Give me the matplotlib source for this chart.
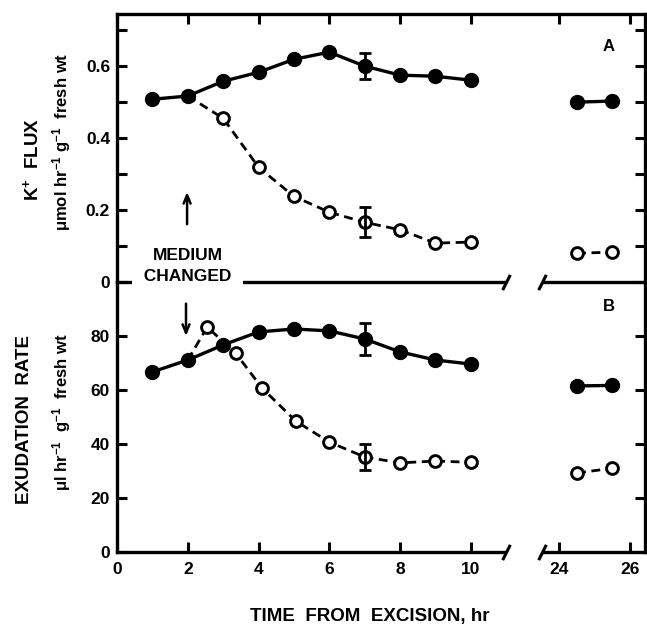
import numpy as np
import matplotlib
matplotlib.use("Agg")
import matplotlib.pyplot as plt

plt.rcParams['font.family'] = ['Liberation Sans', 'DejaVu Sans']
plt.rcParams['font.weight'] = 'bold'
plt.rcParams['mathtext.fontset'] = 'custom'
plt.rcParams['mathtext.bf'] = 'Liberation Sans:bold'
plt.rcParams['mathtext.rm'] = 'Liberation Sans:bold'
plt.rcParams['mathtext.default'] = 'bf'

# panel A: K+ flux
a_ctrl_x = [1, 2, 3, 4, 5, 6, 7, 8, 9, 10]
a_ctrl_y = [0.508, 0.517, 0.558, 0.583, 0.619, 0.639, 0.600, 0.575, 0.572, 0.561]
a_chg_x = [2, 3, 4, 5, 6, 7, 8, 9, 10]
a_chg_y = [0.517, 0.455, 0.319, 0.238, 0.194, 0.166, 0.145, 0.108, 0.111]
a_late_x = [24.5, 25.5]
a_late_ctrl = [0.500, 0.503]
a_late_chg = [0.080, 0.083]
a_err_ctrl = 0.037
a_err_chg = 0.042

# panel B: exudation rate
b_ctrl_x = [1, 2, 3, 4, 5, 6, 7, 8, 9, 10]
b_ctrl_y = [66.7, 71.1, 76.7, 81.5, 82.6, 81.9, 78.9, 74.1, 71.1, 69.6]
b_chg_x = [2, 2.55, 3.35, 4.1, 5.05, 6, 7, 8, 9, 10]
b_chg_y = [71.1, 83.3, 73.7, 60.7, 48.5, 40.7, 35.2, 33.0, 33.7, 33.2]
b_late_x = [24.5, 25.5]
b_late_ctrl = [61.5, 61.7]
b_late_chg = [29.3, 31.0]
b_err_ctrl = 5.8
b_err_chg = 4.9

x_ticks = [0, 2, 4, 6, 8, 10, 24, 26]


# broken time axis: 0-11 h, then squeeze the gap, then 23.5-26.4 h
def fwd(x):
    x = np.asarray(x, dtype=float)
    return np.where(x <= 11, x, np.where(x >= 23.5, x - 11.5, 11 + (x - 11) / 12.5))


def inv(t):
    t = np.asarray(t, dtype=float)
    return np.where(t <= 11, t, np.where(t >= 12, t + 11.5, 11 + (t - 11) * 12.5))


W, H = 647, 626
fig = plt.figure(figsize=(W / 100, H / 100), dpi=100)


def box(l, t, r, b):
    return [l / W, 1 - b / H, (r - l) / W, (b - t) / H]


axB = fig.add_axes(box(117, 282, 645, 552))
axA = fig.add_axes(box(117, 14, 645, 282))
axA.patch.set_visible(False)
axB.patch.set_visible(False)

filled = dict(color='black', lw=2.4, marker='o', ms=10, mfc='black', mec='black', zorder=4)
hollow = dict(color='black', lw=2.0, dashes=(3.2, 2.0), marker='o', ms=8.5, mfc='white',
              mec='black', mew=2.1, zorder=3)


def draw_panel(ax, cx, cy, ox, oy, lx, lc, lo, ec, eo, skip):
    ax.set_xscale('function', functions=(fwd, inv))
    ax.plot(cx, cy, **filled)
    ax.plot(ox, oy, markevery=list(range(skip, len(ox))), **hollow)
    ax.plot(lx, lc, **filled)
    ax.plot(lx, lo, **hollow)
    ax.errorbar([7], [cy[cx.index(7)]], yerr=ec, fmt='none', ecolor='black',
                elinewidth=2, capsize=4.3, capthick=2, zorder=5)
    ax.errorbar([7], [oy[ox.index(7)]], yerr=eo, fmt='none', ecolor='black',
                elinewidth=2, capsize=4.3, capthick=2, zorder=5)
    ax.set_xlim(0, 26.42)
    ax.set_xticks(x_ticks)
    for s in ax.spines.values():
        s.set_linewidth(2.4)
    ax.spines['bottom'].set_visible(False)
    tr = ax.get_xaxis_transform()
    ax.plot([0, 10.95], [0, 0], color='black', lw=2.4, transform=tr, clip_on=False, zorder=2)
    ax.plot([23.55, 26.42], [0, 0], color='black', lw=2.4, transform=tr, clip_on=False, zorder=2)
    slash = [(-0.5, -1), (0.5, 1)]
    ax.plot([11.05, 23.5], [0, 0], ls='none', marker=slash, ms=11, mew=2.2, color='black',
            transform=tr, clip_on=False, zorder=2)


# panel A
draw_panel(axA, a_ctrl_x, a_ctrl_y, a_chg_x, a_chg_y, a_late_x, a_late_ctrl, a_late_chg,
           a_err_ctrl, a_err_chg, 1)
axA.set_ylim(0, 0.745)
axA.set_yticks(np.arange(0, 0.71, 0.1))
axA.set_yticklabels(['0', '', '0.2', '', '0.4', '', '0.6', ''])
axA.tick_params(axis='both', direction='in', length=7, width=2.2, labelsize=12.5, pad=5,
                top=True, bottom=False, right=True, labelbottom=False)
axA.text(25.4, 0.655, 'A', fontsize=12, fontweight='bold', ha='center', va='center')

# "medium changed" note with arrows
axA.text(2, 0.075, 'MEDIUM', fontsize=12.5, fontweight='bold', ha='center', va='center',
         zorder=7)
axA.text(2, 0.016, '  CHANGED  ', fontsize=12.5, fontweight='bold', ha='center', va='center',
         bbox=dict(facecolor='white', edgecolor='none', pad=1.5), zorder=6)
axA.annotate('', xy=(1.98, 0.258), xytext=(1.98, 0.153),
             arrowprops=dict(arrowstyle='->,head_length=0.6,head_width=0.25', lw=1.8, color='black'))

# panel B
draw_panel(axB, b_ctrl_x, b_ctrl_y, b_chg_x, b_chg_y, b_late_x, b_late_ctrl, b_late_chg,
           b_err_ctrl, b_err_chg, 1)
axB.set_ylim(0, 100)
axB.set_yticks([0, 20, 40, 60, 80])
axB.tick_params(axis='both', direction='in', length=7, width=2.2, labelsize=12.5,
                top=False, bottom=True, right=True)
axB.tick_params(axis='x', pad=7)
axB.tick_params(axis='y', pad=5)
axB.spines['top'].set_visible(False)
axB.text(25.4, 91, 'B', fontsize=12, fontweight='bold', ha='center', va='center')
axB.annotate('', xy=(1.95, 79), xytext=(1.95, 93),
             arrowprops=dict(arrowstyle='->,head_length=0.6,head_width=0.25', lw=1.8, color='black'))

# axis titles
fig.text(32 / W, 1 - 159 / H, 'K$^{+}$  FLUX', rotation=90, fontsize=13.5,
         fontweight='bold', ha='center', va='center')
fig.text(62 / W, 1 - 142 / H, '$\\mu$mol hr$^{-1}$ g$^{-1}$  fresh wt', rotation=90,
         fontsize=12, fontweight='bold', ha='center', va='center')
fig.text(25 / W, 1 - 420 / H, 'EXUDATION  RATE', rotation=90, fontsize=13.5,
         fontweight='bold', ha='center', va='center')
fig.text(62 / W, 1 - 412 / H, '$\\mu$l hr$^{-1}$  g$^{-1}$  fresh wt', rotation=90,
         fontsize=12, fontweight='bold', ha='center', va='center')
fig.text(370 / W, 1 - 617 / H, 'TIME  FROM  EXCISION, hr', fontsize=13.5,
         fontweight='bold', ha='center', va='center')

fig.savefig('out.png', dpi=100)
